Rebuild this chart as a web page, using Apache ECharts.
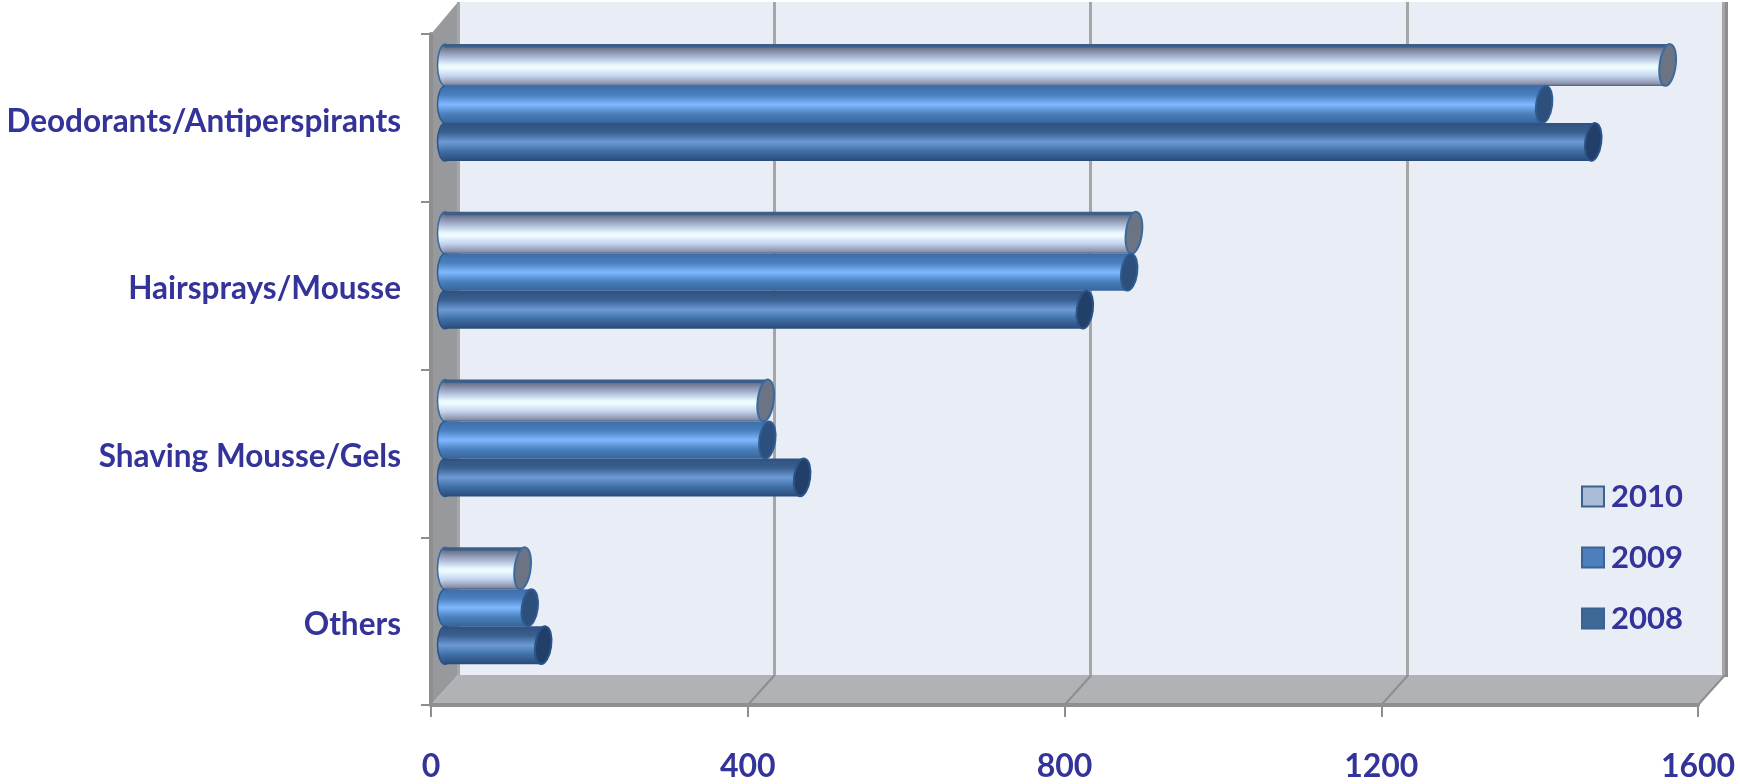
<!DOCTYPE html>
<html>
<head>
<meta charset="utf-8">
<style>html,body{margin:0;padding:0;background:#fff}#c{width:1740px;height:784px}</style>
<script src="https://cdn.jsdelivr.net/npm/echarts@6/dist/echarts.min.js"></script>
</head>
<body>
<div id="c"></div>
<script>
const categories = ['Deodorants/Antiperspirants', 'Hairsprays/Mousse', 'Shaving Mousse/Gels', 'Others'];
const values2010 = [1544, 870, 405, 98];
const values2009 = [1388, 864, 407, 107];
const values2008 = [1450, 808, 451, 124];
const years = ['2010', '2009', '2008'];
const xTicks = [0, 400, 800, 1200, 1600];

const FONT = 'Lato';
const INK = '#333399';
const stops = a => ({type:'linear',x:0,y:0,x2:0,y2:1,colorStops:a.map(s=>({offset:s[0],color:s[1]}))});
const looks = [
  {values:values2010, width:42, shift:-37.5, legend:'#aabbd8', edge:'#3c6291', cap:'#6c7484', capEdge:'#3a6a9e',
   fill:stops([[0,'#3c5f8a'],[.07,'#3c5f8a'],[.1,'#6f768c'],[.3,'#a7b4d2'],[.5,'#e8f6ff'],[.57,'#f0fcff'],[.76,'#c4d4ee'],[.95,'#8a90a8'],[1,'#44638c']])},
  {values:values2009, width:37, shift:2, legend:'#4d7fbc', edge:'#3c6291', cap:'#2c4f7c', capEdge:'#2f5c92',
   fill:stops([[0,'#3c6da6'],[.25,'#4a80bf'],[.5,'#80b8ff'],[.75,'#4a80bd'],[1,'#35659c']])},
  {values:values2008, width:38, shift:39.5, legend:'#3e6898', edge:'#3c6291', cap:'#213f68', capEdge:'#2a5488',
   fill:stops([[0,'#2f5180'],[.25,'#3a6090'],[.5,'#6c9ad4'],[.75,'#3f6ea5'],[1,'#2a4a78']])}
];
const BAR_GRID = 3;

function startCaps(look, i) {
  return {
    type:'custom', name:years[i], coordinateSystem:'cartesian2d',
    xAxisIndex:BAR_GRID-1, yAxisIndex:BAR_GRID-1, z:2, silent:true,
    data:look.values.map((v,k)=>[0,k]),
    renderItem:(params,api)=>{
      const o = api.coord([0,api.value(1)]);
      return {type:'ellipse',x:o[0],y:o[1]+look.shift,
        shape:{cx:0,cy:0,rx:7.5,ry:look.width/2},
        style:{fill:look.fill,stroke:look.capEdge,lineWidth:1.5}};
    }
  };
}
function endCaps(look, i) {
  return {
    type:'custom', name:years[i], coordinateSystem:'cartesian2d',
    xAxisIndex:BAR_GRID-1, yAxisIndex:BAR_GRID-1, z:10+i, silent:true,
    data:look.values.map((v,k)=>[v,k]),
    renderItem:(params,api)=>{
      const p = api.coord([api.value(0),api.value(1)]);
      return {type:'ellipse',x:p[0],y:p[1]+look.shift,rotation:-0.13,
        shape:{cx:0,cy:0,rx:8,ry:look.width/2},
        style:{fill:look.cap,stroke:look.capEdge,lineWidth:2}};
    }
  };
}
const barSeries = looks.map((look,i)=>({
  type:'bar', name:years[i], xAxisIndex:BAR_GRID-1, yAxisIndex:BAR_GRID-1, z:5+i,
  data:look.values, barWidth:look.width, barGap:'0%', silent:true,
  itemStyle:{color:look.fill}
}));

const hidden = {show:false};
const deco = [
  {type:'polygon',z:-1,shape:{points:[[431,34],[458,2],[458,675],[431,705]]},style:{fill:'#98999d'}},
  {type:'polygon',z:-1,shape:{points:[[431,705],[458,675],[1725,675],[1698,705]]},style:{fill:'#b0b2b6'}},
  {type:'rect',z:-1,shape:{x:1723,y:2,width:5,height:675},style:{fill:'#8e8e8e'}}
].concat(xTicks.slice(1).map(v=>{
  const x = 431 + v*1267/1600;
  return {type:'line',z:-1,shape:{x1:x,y1:705,x2:x+27,y2:675},style:{stroke:'#8e8e8e',lineWidth:2}};
}));

const chart = echarts.init(document.getElementById('c'),null,{renderer:'canvas'});
chart.setOption({
  backgroundColor:'#ffffff',
  animation:false,
  graphic:deco,
  legend:{
    orient:'vertical', left:1576, top:476, itemWidth:22, itemHeight:20, itemGap:30,
    selectedMode:false, icon:'rect',
    textStyle:{color:INK,fontFamily:FONT,fontWeight:'bold',fontSize:31,padding:[0,0,0,2]},
    data:looks.map((l,i)=>({name:years[i],itemStyle:{color:l.legend,borderColor:l.edge,borderWidth:2}}))
  },
  grid:[
    {left:458,right:17,top:2,bottom:109,show:true,backgroundColor:'#e9edf6',borderWidth:0,z:-2},
    {left:431,right:42,top:34,bottom:79},
    {left:445,right:28,top:18.6,bottom:94.4},
    {left:431,right:42,top:37.5,bottom:75.5}
  ],
  xAxis:[
    {gridIndex:0,type:'value',min:0,max:1600,interval:400,axisLine:hidden,axisTick:hidden,axisLabel:hidden,
     splitLine:{show:true,lineStyle:{color:'#a6a6a6',width:3}}},
    {gridIndex:1,type:'value',min:0,max:1600,interval:400,z:1,
     axisLine:{show:true,lineStyle:{color:'#8e8e8e',width:4}},
     axisTick:{show:true,length:12,lineStyle:{color:'#8e8e8e',width:2}},
     splitLine:hidden,
     axisLabel:{color:INK,fontFamily:FONT,fontWeight:'bold',fontSize:32,margin:46,showMinLabel:true,showMaxLabel:true,
       formatter:v=>String(v)}},
    {gridIndex:2,type:'value',min:0,max:1600,show:false,splitLine:hidden},
    {gridIndex:3,type:'value',min:0,max:1600,show:false,splitLine:hidden}
  ],
  yAxis:[
    {gridIndex:0,type:'category',data:categories,inverse:true,show:false},
    {gridIndex:1,type:'category',data:categories,inverse:true,z:1,
     axisLine:{show:true,lineStyle:{color:'#8e8e8e',width:4}},
     axisTick:{show:true,length:10,alignWithLabel:false,lineStyle:{color:'#8e8e8e',width:2}},
     axisLabel:hidden},
    {gridIndex:2,type:'category',data:categories,inverse:true,show:false},
    {gridIndex:3,type:'category',data:categories,inverse:true,
     axisLine:hidden,axisTick:hidden,
     axisLabel:{color:INK,fontFamily:FONT,fontWeight:'bold',fontSize:31.5,margin:30}}
  ],
  series:looks.map(startCaps).concat(barSeries, looks.map(endCaps))
});
</script>
</body>
</html>
